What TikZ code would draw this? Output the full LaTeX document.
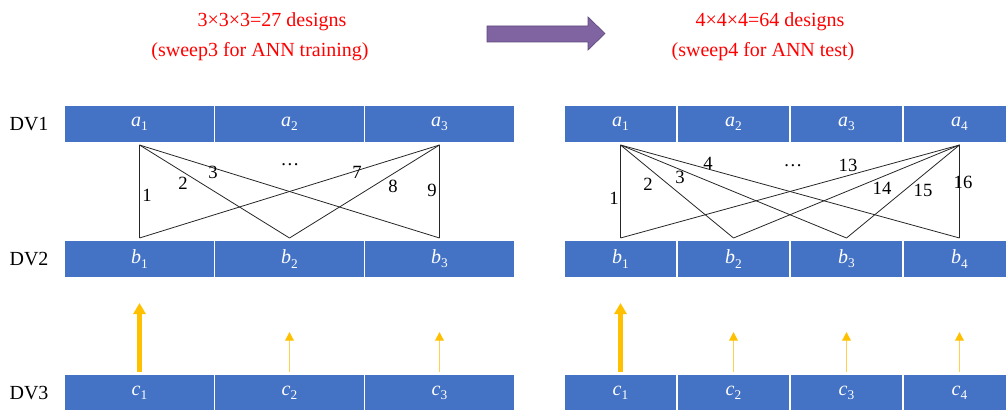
\documentclass[tikz,border=0pt]{standalone}
\usepackage{fontspec}
\setmainfont{Liberation Serif}
\usetikzlibrary{arrows.meta,positioning,calc}
\definecolor{boxblue}{HTML}{4472C4}
\definecolor{gold}{HTML}{FFC000}
\definecolor{paleGold}{HTML}{FFD24D}
\definecolor{arrowPurple}{HTML}{8064A2}
\definecolor{purpleEdge}{HTML}{5E4A7E}
\newcommand{\dvar}[2]{\textit{#1}\raisebox{-0.45ex}{\fontsize{10}{10}\selectfont #2}}
\tikzset{
  dvbox/.style={rectangle, fill=boxblue, text=white, inner sep=0pt,
                minimum height=27pt, outer ysep=2.25pt, font=\fontsize{15}{18}\selectfont},
  lbox/.style={dvbox, minimum width=111.75pt},
  rbox/.style={dvbox, minimum width=83.25pt},
  dvlab/.style={inner sep=0pt, font=\fontsize{15}{18}\selectfont},
  num/.style={inner sep=0pt, font=\fontsize{14}{16}\selectfont},
  ttl/.style={inner sep=0pt, text=red, font=\fontsize{15}{18}\selectfont},
  lnk/.style={line width=0.6pt, black!85},
  upbig/.style={-{Triangle[length=8.25pt, width=9pt]}, line width=3.5pt, gold},
  upsm/.style={-{Triangle[length=6.5pt, width=6.5pt, fill=gold, color=gold]}, line width=1pt, paleGold}
}

\begin{document}
\begin{tikzpicture}[x=0.75pt, y=-0.75pt]
\useasboundingbox (0,0) rectangle (1006,410);
% titles and the big arrow
\node[ttl] (t1) at (272,22) {3×3×3=27 designs};
\node[ttl] (t2) at (260,52) {(sweep3 for ANN training)};
\node[ttl] (t3) at (770,22) {4×4×4=64 designs};
\node[ttl] (t4) at (763,52) {(sweep4 for ANN test)};
\draw[fill=arrowPurple, draw=purpleEdge, line width=0.5pt]
  (487,26) -- (588,26) -- (588,17) -- (605,33.5) -- (588,50) -- (588,42) -- (487,42) -- cycle;
% left: sweep3
\node[lbox] (la1) at (139.5,124) {\dvar{a}{1}};
\node[lbox] (la2) at (289.5,124) {\dvar{a}{2}};
\node[lbox] (la3) at (439.5,124) {\dvar{a}{3}};
\node[lbox] (lb1) at (139.5,259) {\dvar{b}{1}};
\node[lbox] (lb2) at (289.5,259) {\dvar{b}{2}};
\node[lbox] (lb3) at (439.5,259) {\dvar{b}{3}};
\node[lbox] (lc1) at (139.5,393) {\dvar{c}{1}};
\node[lbox] (lc2) at (289.5,393) {\dvar{c}{2}};
\node[lbox] (lc3) at (439.5,393) {\dvar{c}{3}};
\node[dvlab, left=12pt of la1] (dv1) {DV1};
\node[dvlab, left=12pt of lb1] (dv2) {DV2};
\node[dvlab, left=12pt of lc1] (dv3) {DV3};
\draw[lnk] (la1.south) -- (lb1.north);
\draw[lnk] (la1.south) -- (lb2.north);
\draw[lnk] (la1.south) -- (lb3.north);
\draw[lnk] (la3.south) -- (lb1.north);
\draw[lnk] (la3.south) -- (lb2.north);
\draw[lnk] (la3.south) -- (lb3.north);
\node[num] (ln1) at (147,195) {1};
\node[num] (ln2) at (183,183) {2};
\node[num] (ln3) at (213,172) {3};
\node[num] (lnd) at (290,165) {\ldots};
\node[num] (ln7) at (357,172) {7};
\node[num] (ln8) at (393,186) {8};
\node[num] (ln9) at (432,190) {9};
\coordinate (lu1) at ($(lc1.north)+(0,-69)$);
\coordinate (lu2) at ($(lc2.north)+(0,-40)$);
\coordinate (lu3) at ($(lc3.north)+(0,-40)$);
\draw[upbig] (lc1.north) -- (lu1);
\draw[upsm] (lc2.north) -- (lu2);
\draw[upsm] (lc3.north) -- (lu3);
% right: sweep4
\node[rbox] (ra1) at (620.5,124) {\dvar{a}{1}};
\node[rbox] (ra2) at (733.5,124) {\dvar{a}{2}};
\node[rbox] (ra3) at (846.5,124) {\dvar{a}{3}};
\node[rbox] (ra4) at (959.5,124) {\dvar{a}{4}};
\node[rbox] (rb1) at (620.5,259) {\dvar{b}{1}};
\node[rbox] (rb2) at (733.5,259) {\dvar{b}{2}};
\node[rbox] (rb3) at (846.5,259) {\dvar{b}{3}};
\node[rbox] (rb4) at (959.5,259) {\dvar{b}{4}};
\node[rbox] (rc1) at (620.5,393) {\dvar{c}{1}};
\node[rbox] (rc2) at (733.5,393) {\dvar{c}{2}};
\node[rbox] (rc3) at (846.5,393) {\dvar{c}{3}};
\node[rbox] (rc4) at (959.5,393) {\dvar{c}{4}};
\draw[lnk] (ra1.south) -- (rb1.north);
\draw[lnk] (ra1.south) -- (rb2.north);
\draw[lnk] (ra1.south) -- (rb3.north);
\draw[lnk] (ra1.south) -- (rb4.north);
\draw[lnk] (ra4.south) -- (rb1.north);
\draw[lnk] (ra4.south) -- (rb2.north);
\draw[lnk] (ra4.south) -- (rb3.north);
\draw[lnk] (ra4.south) -- (rb4.north);
\node[num] (rn1) at (614,198) {1};
\node[num] (rn2) at (648,184) {2};
\node[num] (rn3) at (680,177) {3};
\node[num] (rn4) at (708,163) {4};
\node[num] (rnd) at (793,166) {\ldots};
\node[num] (rn13) at (848,165) {13};
\node[num] (rn14) at (882,188) {14};
\node[num] (rn15) at (923,190) {15};
\node[num] (rn16) at (963,182) {16};
\coordinate (ru1) at ($(rc1.north)+(0,-69)$);
\coordinate (ru2) at ($(rc2.north)+(0,-40)$);
\coordinate (ru3) at ($(rc3.north)+(0,-40)$);
\coordinate (ru4) at ($(rc4.north)+(0,-40)$);
\draw[upbig] (rc1.north) -- (ru1);
\draw[upsm] (rc2.north) -- (ru2);
\draw[upsm] (rc3.north) -- (ru3);
\draw[upsm] (rc4.north) -- (ru4);
\end{tikzpicture}
\end{document}
